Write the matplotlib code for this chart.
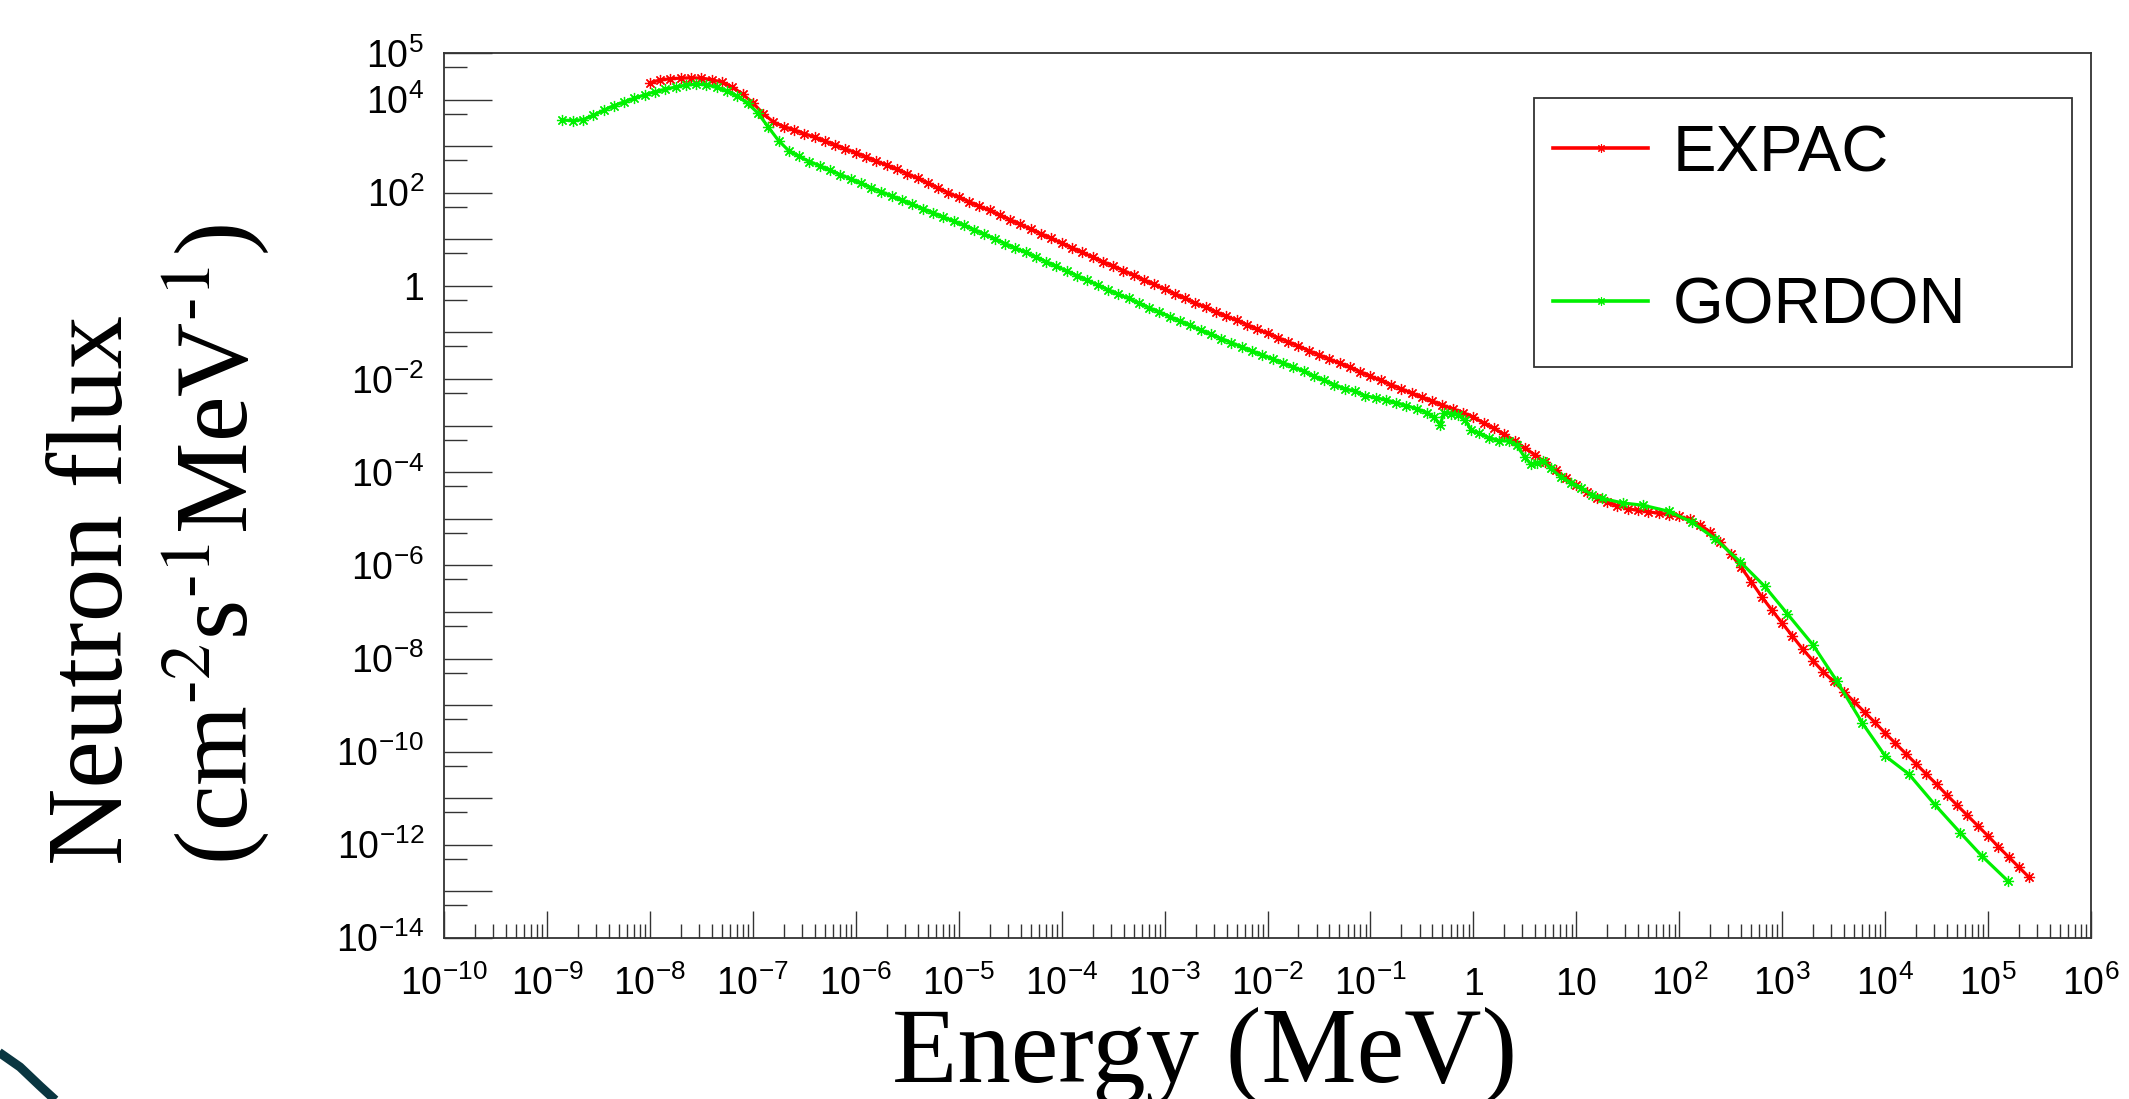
#!/usr/bin/env python3
"""Neutron flux spectrum, EXPAC vs GORDON (ROOT-style log-log plot)."""
import matplotlib
matplotlib.use('Agg')
import matplotlib.pyplot as plt
import numpy as np
from matplotlib.lines import Line2D
from matplotlib.patches import Rectangle
from matplotlib.ticker import LogLocator, NullFormatter
from matplotlib.transforms import ScaledTranslation

plt.rcParams['font.family'] = ['Liberation Sans', 'DejaVu Sans']
plt.rcParams['mathtext.fontset'] = 'custom'
plt.rcParams['mathtext.rm'] = 'Liberation Sans'
plt.rcParams['mathtext.it'] = 'Liberation Sans:italic'
plt.rcParams['mathtext.bf'] = 'Liberation Sans:bold'

# log10(E / MeV) and log10(flux / cm^-2 s^-1 MeV^-1)
expac_log_e = [
    -8.0, -7.9, -7.8, -7.7, -7.6, -7.5, -7.4, -7.3, -7.2, -7.1,
    -7.0, -6.9, -6.8, -6.7, -6.6, -6.5, -6.4, -6.3, -6.2, -6.1,
    -6.0, -5.9, -5.8, -5.7, -5.6, -5.5, -5.4, -5.3, -5.2, -5.1,
    -5.0, -4.9, -4.8, -4.7, -4.6, -4.5, -4.4, -4.3, -4.2, -4.1,
    -4.0, -3.9, -3.8, -3.7, -3.6, -3.5, -3.4, -3.3, -3.2, -3.1,
    -3.0, -2.9, -2.8, -2.7, -2.6, -2.5, -2.4, -2.3, -2.2, -2.1,
    -2.0, -1.9, -1.8, -1.7, -1.6, -1.5, -1.4, -1.3, -1.2, -1.1,
    -1.0, -0.9, -0.8, -0.7, -0.6, -0.5, -0.4, -0.3, -0.2, -0.1,
    0.0, 0.1, 0.2, 0.3, 0.4, 0.5, 0.6, 0.7, 0.8, 0.9,
    1.0, 1.1, 1.2, 1.3, 1.4, 1.5, 1.6, 1.7, 1.8, 1.9,
    2.0, 2.1, 2.2, 2.3, 2.4, 2.5, 2.6, 2.7, 2.8, 2.9,
    3.0, 3.1, 3.2, 3.3, 3.4, 3.5, 3.6, 3.7, 3.8, 3.9,
    4.0, 4.1, 4.2, 4.3, 4.4, 4.5, 4.6, 4.7, 4.8, 4.9,
    5.0, 5.1, 5.2, 5.3, 5.4,
]
expac_log_flux = [
    4.36, 4.42, 4.45, 4.46, 4.47, 4.46, 4.43, 4.37, 4.27, 4.12,
    3.93, 3.70, 3.52, 3.42, 3.35, 3.27, 3.19, 3.11, 3.03, 2.94,
    2.86, 2.77, 2.68, 2.59, 2.50, 2.41, 2.31, 2.21, 2.10, 2.00,
    1.90, 1.81, 1.71, 1.62, 1.52, 1.42, 1.32, 1.22, 1.12, 1.02,
    0.92, 0.82, 0.72, 0.62, 0.52, 0.43, 0.33, 0.23, 0.13, 0.03,
    -0.07, -0.17, -0.27, -0.37, -0.46, -0.56, -0.65, -0.74, -0.83, -0.93,
    -1.02, -1.11, -1.20, -1.29, -1.39, -1.48, -1.57, -1.66, -1.75, -1.84,
    -1.94, -2.03, -2.12, -2.21, -2.30, -2.39, -2.47, -2.56, -2.64, -2.72,
    -2.82, -2.94, -3.06, -3.19, -3.32, -3.48, -3.63, -3.79, -3.95, -4.12,
    -4.28, -4.43, -4.56, -4.65, -4.72, -4.78, -4.82, -4.85, -4.88, -4.91,
    -4.95, -5.01, -5.13, -5.28, -5.50, -5.75, -6.04, -6.35, -6.67, -6.96,
    -7.24, -7.52, -7.80, -8.05, -8.29, -8.49, -8.71, -8.93, -9.15, -9.37,
    -9.60, -9.82, -10.04, -10.26, -10.48, -10.70, -10.93, -11.15, -11.37, -11.59,
    -11.81, -12.04, -12.26, -12.48, -12.70,
]

gordon_log_e = [
    -8.85, -8.75, -8.65, -8.55, -8.45, -8.35, -8.25, -8.15, -8.05, -7.95,
    -7.85, -7.75, -7.65, -7.55, -7.45, -7.35, -7.25, -7.15, -7.05, -6.95,
    -6.85, -6.75, -6.65, -6.55, -6.45, -6.35, -6.25, -6.15, -6.05, -5.95,
    -5.85, -5.75, -5.65, -5.55, -5.45, -5.35, -5.25, -5.15, -5.05, -4.95,
    -4.85, -4.75, -4.65, -4.55, -4.45, -4.35, -4.25, -4.15, -4.05, -3.95,
    -3.85, -3.75, -3.65, -3.55, -3.45, -3.35, -3.25, -3.15, -3.05, -2.95,
    -2.85, -2.75, -2.65, -2.55, -2.45, -2.35, -2.25, -2.15, -2.05, -1.95,
    -1.85, -1.75, -1.65, -1.55, -1.45, -1.35, -1.25, -1.15, -1.05, -0.95,
    -0.85, -0.75, -0.65, -0.55, -0.45, -0.38, -0.32, -0.29, -0.22, -0.15,
    -0.08, -0.02, 0.05, 0.15, 0.25, 0.35, 0.42, 0.50, 0.56, 0.62,
    0.68, 0.75, 0.85, 0.95, 1.05, 1.15, 1.25, 1.45, 1.65, 1.90,
    2.12, 2.35, 2.59, 2.83, 3.05, 3.30, 3.53, 3.78, 4.00, 4.23,
    4.48, 4.73, 4.94, 5.19,
]
gordon_log_flux = [
    3.56, 3.55, 3.57, 3.66, 3.77, 3.87, 3.95, 4.03, 4.10, 4.17,
    4.22, 4.27, 4.31, 4.33, 4.32, 4.26, 4.18, 4.07, 3.92, 3.71,
    3.41, 3.12, 2.90, 2.78, 2.67, 2.58, 2.48, 2.39, 2.30, 2.20,
    2.11, 2.02, 1.93, 1.84, 1.75, 1.66, 1.57, 1.48, 1.39, 1.30,
    1.21, 1.11, 1.01, 0.91, 0.81, 0.72, 0.62, 0.52, 0.42, 0.32,
    0.22, 0.12, 0.02, -0.08, -0.18, -0.27, -0.37, -0.47, -0.56, -0.66,
    -0.75, -0.85, -0.95, -1.04, -1.13, -1.22, -1.31, -1.40, -1.48, -1.57,
    -1.65, -1.74, -1.83, -1.94, -2.03, -2.12, -2.21, -2.26, -2.36, -2.40,
    -2.45, -2.51, -2.57, -2.64, -2.72, -2.82, -2.99, -2.72, -2.74, -2.77,
    -2.88, -3.10, -3.16, -3.26, -3.32, -3.33, -3.42, -3.68, -3.83, -3.80,
    -3.76, -3.92, -4.10, -4.23, -4.34, -4.48, -4.56, -4.66, -4.71, -4.84,
    -5.07, -5.43, -5.92, -6.45, -7.04, -7.71, -8.48, -9.39, -10.09, -10.48,
    -11.13, -11.74, -12.24, -12.77,
]

series_names = ['EXPAC', 'GORDON']
series_colors = ['#ff0000', '#00f000']

x_tick_values = [1e-10, 1e-9, 1e-8, 1e-7, 1e-6, 1e-5, 1e-4, 1e-3, 1e-2,
                 1e-1, 1e0, 1e1, 1e2, 1e3, 1e4, 1e5, 1e6]
x_tick_labels = [r'$10^{-10}$', r'$10^{-9}$', r'$10^{-8}$', r'$10^{-7}$',
                 r'$10^{-6}$', r'$10^{-5}$', r'$10^{-4}$', r'$10^{-3}$',
                 r'$10^{-2}$', r'$10^{-1}$', r'$1$', r'$10$', r'$10^{2}$',
                 r'$10^{3}$', r'$10^{4}$', r'$10^{5}$', r'$10^{6}$']
y_tick_values = [1e-14, 1e-13, 1e-12, 1e-11, 1e-10, 1e-9, 1e-8, 1e-7, 1e-6,
                 1e-5, 1e-4, 1e-3, 1e-2, 1e-1, 1e0, 1e1, 1e2, 1e3, 1e4, 1e5]
y_tick_labels = [r'$10^{-14}$', '', r'$10^{-12}$', '', r'$10^{-10}$', '',
                 r'$10^{-8}$', '', r'$10^{-6}$', '', r'$10^{-4}$', '',
                 r'$10^{-2}$', '', r'$1$', '', r'$10^{2}$', '', r'$10^{4}$',
                 r'$10^{5}$']

W, H = 2129, 1099
fig = plt.figure(figsize=(W / 100, H / 100), dpi=100)
ax = fig.add_axes([444 / W, 1 - 938 / H, (2091 - 444) / W, (938 - 53) / H])

star = (8, 2, 0)
for log_e, log_f, name, col in [(expac_log_e, expac_log_flux, series_names[0], series_colors[0]),
                                (gordon_log_e, gordon_log_flux, series_names[1], series_colors[1])]:
    ax.plot(10.0 ** np.array(log_e), 10.0 ** np.array(log_f), color=col, lw=2.3,
            marker=star, ms=8, mew=0.9, label=name)

ax.set_xscale('log')
ax.set_yscale('log')
ax.set_xlim(1e-10, 1e6)
ax.set_ylim(1e-14, 1e5)

tick_col = '#333333'
ax.tick_params(axis='y', which='major', direction='in', length=34.6, width=1.0,
               pad=14.4, labelsize=27, left=True, right=False, color=tick_col)
ax.tick_params(axis='y', which='minor', direction='in', length=16.6, width=1.0,
               left=True, right=False, color=tick_col)
ax.tick_params(axis='x', which='major', direction='in', length=19.4, width=1.0,
               pad=41, labelsize=27, top=False, bottom=True, color=tick_col)
ax.tick_params(axis='x', which='minor', direction='in', length=10, width=1.0,
               top=False, bottom=True, color=tick_col)

ax.set_xticks(x_tick_values, x_tick_labels)
ax.set_yticks(y_tick_values, y_tick_labels)
ax.xaxis.set_minor_locator(LogLocator(base=10, subs=np.arange(2, 10), numticks=100))
ax.xaxis.set_minor_formatter(NullFormatter())
ax.yaxis.set_minor_locator(LogLocator(base=10, subs=[5.0], numticks=100))
ax.yaxis.set_minor_formatter(NullFormatter())

# keep digits on one baseline, as ROOT does
for lbl in ax.get_xticklabels():
    lbl.set_va('baseline')
shift = ScaledTranslation(0, -14.5 / 100, fig.dpi_scale_trans)
for lbl in ax.get_yticklabels():
    lbl.set_va('baseline')
    lbl.set_transform(lbl.get_transform() + shift)

for sp in ax.spines.values():
    sp.set_color(tick_col)
    sp.set_linewidth(1.3)

# legend: box drawn separately so its size matches
ax.add_patch(Rectangle((0.6618, 0.6452), 0.9885 - 0.6618, 0.9492 - 0.6452,
                       transform=ax.transAxes, facecolor='white',
                       edgecolor=tick_col, lw=1.3, zorder=4))
handles = [Line2D([], [], color=c, lw=2.6, marker=star, ms=6, mew=0.8)
           for c in series_colors]
ax.legend(handles, series_names, loc='upper left',
          bbox_to_anchor=(1553 / W, 1 - 124 / H), bbox_transform=fig.transFigure,
          frameon=False, borderpad=0, borderaxespad=0, fontsize=47,
          handlelength=1.46, handletextpad=0.37, labelspacing=1.42,
          numpoints=1).set_zorder(5)

# axis titles
fig.text(122 / W, 1 - 590 / H, 'Neutron flux', rotation=90, rotation_mode='anchor',
         ha='center', va='baseline', fontsize=77, family='Liberation Serif')
fig.text(247 / W, 1 - 545 / H, r'(cm$^{\text{-2}}$s$^{\text{-1}}$MeV$^{\text{-1}}$)',
         rotation=90, rotation_mode='anchor', ha='center', va='baseline',
         fontsize=74, family='Liberation Serif', math_fontfamily='stix')
# descenders run off the bottom edge, as in the original slide
fig.text(1205 / W, 1 - 1082 / H, 'Energy (MeV)', ha='center', va='baseline',
         fontsize=77, family='Liberation Serif')

# slide decoration in the lower-left corner
fig.add_artist(Line2D(np.array([-8, 0, 20, 40, 64]) / W,
                      1 - np.array([1047, 1053, 1067, 1086, 1108]) / H,
                      transform=fig.transFigure, color='#0a3641', lw=6.5,
                      solid_capstyle='butt'))

fig.savefig('out.png', dpi=100)
